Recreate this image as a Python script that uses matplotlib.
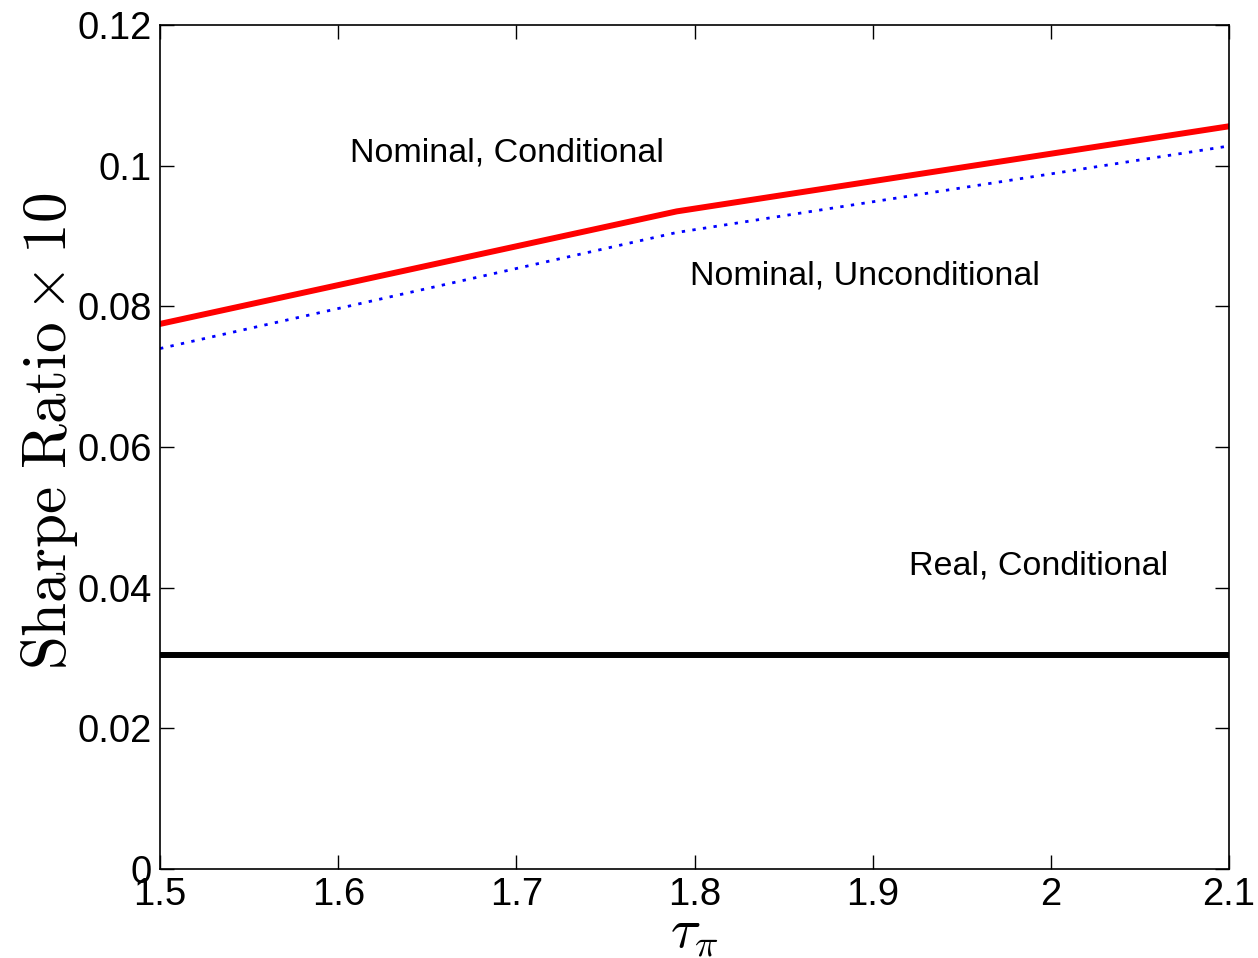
import matplotlib
matplotlib.use('Agg')
import matplotlib.pyplot as plt

plt.rcParams['font.family'] = ['Liberation Sans', 'DejaVu Sans']
plt.rcParams['mathtext.fontset'] = 'cm'

# Data
tau = [1.5, 1.79, 2.1]
nominal_cond = [0.0775, 0.0935, 0.1056]
nominal_uncond = [0.0740, 0.0905, 0.1028]
real_cond = [0.0304, 0.0304, 0.0304]

fig = plt.figure(figsize=(12.58, 9.58), dpi=100)
ax = fig.add_axes([0.1272, 0.0929, 0.8498, 0.8810])

ax.plot(tau, nominal_cond, color='red', lw=4.3)
ax.plot(tau, nominal_uncond, color='blue', lw=2, linestyle=(0, (1.2, 2.65)))
ax.plot(tau, real_cond, color='black', lw=4.3)

ax.text(1.6066, 0.1018, 'Nominal, Conditional', fontsize=24.5, va='center')
ax.text(1.7975, 0.0843, 'Nominal, Unconditional', fontsize=24.5, va='center')
ax.text(1.9204, 0.0431, 'Real, Conditional', fontsize=24.5, va='center')

ax.set_xlim(1.5, 2.1)
ax.set_ylim(0, 0.12)
ax.set_xticks([1.5, 1.6, 1.7, 1.8, 1.9, 2.0, 2.1])
ax.set_xticklabels(['1.5', '1.6', '1.7', '1.8', '1.9', '2', '2.1'])
ax.set_yticks([0, 0.02, 0.04, 0.06, 0.08, 0.1, 0.12])
ax.set_yticklabels(['0', '0.02', '0.04', '0.06', '0.08', '0.1', '0.12'])
ax.tick_params(direction='in', top=True, right=True, length=10, width=1,
               labelsize=27.5, pad=6)
for s in ax.spines.values():
    s.set_linewidth(1.2)

ax.set_xlabel(r'$\tau_\pi$', fontsize=40)
ax.xaxis.set_label_coords(0.5, -0.076)
ax.xaxis.label.set_va('center')
ax.set_ylabel(r'$\mathrm{Sharpe\ Ratio}\times 10$', fontsize=44)
ax.yaxis.set_label_coords(-0.103, 0.519)
ax.yaxis.label.set_va('center')

fig.savefig('out.png', dpi=100)
